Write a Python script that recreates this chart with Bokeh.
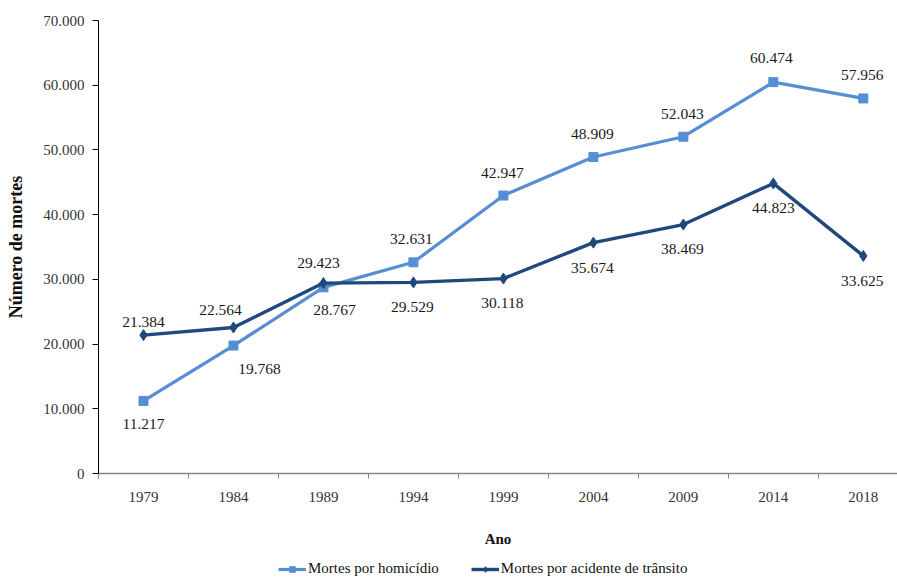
from bokeh.plotting import figure
from bokeh.layouts import column
from bokeh.models import ColumnDataSource, FixedTicker, Range1d, Legend, LegendItem
from bokeh.embed import file_html
from bokeh.resources import INLINE
from bokeh.core.properties import value

# ---- data ----
years = ["1979", "1984", "1989", "1994", "1999", "2004", "2009", "2014", "2018"]
homicidios = [11217, 19768, 28767, 32631, 42947, 48909, 52043, 60474, 57956]
transito = [21384, 22564, 29423, 29529, 30118, 35674, 38469, 44823, 33625]
y_ticks = [0, 10000, 20000, 30000, 40000, 50000, 60000, 70000]
series_names = ["Mortes por homicídio", "Mortes por acidente de trânsito"]

# ---- label placement (screen px, style only) ----
hom_dx = [0, 26, 11, -2, -1, -1, -1, -2, -1]
hom_dy = [23, 23, 23, -23, -23, -23, -23, -24, -23]
tra_dx = [0, -13, -5, -1, -1, -1, -1, 0, -1]
tra_dy = [-13, -17, -20, 25, 24, 25, 24, 25, 25]

def fmt(v):
    return f"{v:,}".replace(",", ".")

xs = list(range(len(years)))
c_hom = "#558ED5"
c_tra = "#1F497D"
serif = "Liberation Serif"

p = figure(width=897, height=553, output_backend="svg", toolbar_location=None,
           x_range=Range1d(-0.5, 8.38), y_range=Range1d(0, 70000),
           min_border_left=98, min_border_top=20, min_border_right=0,
           min_border_bottom=80)
p.outline_line_color = None
p.xgrid.visible = False
p.ygrid.visible = False

src_h = ColumnDataSource(dict(x=xs, y=homicidios, t=[fmt(v) for v in homicidios], dx=hom_dx, dy=hom_dy))
src_t = ColumnDataSource(dict(x=xs, y=transito, t=[fmt(v) for v in transito], dx=tra_dx, dy=tra_dy))

line_h = dict(line_color=c_hom, line_width=3.2)
mark_h = dict(marker="square", size=9, color=c_hom)
line_t = dict(line_color=c_tra, line_width=3.4)
mark_t = dict(marker="diamond", size=11, color=c_tra)

p.line("x", "y", source=src_h, **line_h)
p.scatter("x", "y", source=src_h, **mark_h)
p.line("x", "y", source=src_t, **line_t)
p.scatter("x", "y", source=src_t, **mark_t)

for s in (src_h, src_t):
    p.text("x", "y", text="t", source=s, x_offset="dx", y_offset="dy",
           text_align="center", text_baseline="middle",
           text_font=value(serif), text_font_size="15.5px", text_color="#1a1a1a")

# x axis
p.xaxis.ticker = FixedTicker(ticks=xs, minor_ticks=[i - 0.5 for i in range(len(years))])
p.xaxis.major_label_overrides = {i: y for i, y in enumerate(years)}
p.xaxis.major_tick_line_color = None
p.xaxis.minor_tick_line_color = "#888888"
p.xaxis.minor_tick_out = 5
p.xaxis.minor_tick_in = 0
p.xaxis.axis_line_color = "#888888"
p.xaxis.axis_line_width = 1.5
p.xaxis.major_label_standoff = 12
p.xaxis.major_label_text_font = serif
p.xaxis.major_label_text_font_size = "15px"
p.xaxis.major_label_text_color = "#333333"
p.xaxis.axis_label = "Ano"
p.xaxis.axis_label_text_font = serif
p.xaxis.axis_label_text_font_style = "bold"
p.xaxis.axis_label_text_font_size = "15px"
p.xaxis.axis_label_text_color = "#111111"
p.xaxis.axis_label_standoff = 26

# y axis
p.yaxis.ticker = FixedTicker(ticks=y_ticks, minor_ticks=[])
p.yaxis.major_label_overrides = {v: fmt(v) for v in y_ticks}
p.yaxis.axis_line_color = "#000000"
p.yaxis.major_tick_line_color = "#000000"
p.yaxis.major_tick_out = 6
p.yaxis.major_tick_in = 0
p.yaxis.major_label_standoff = 8
p.yaxis.major_label_text_font = serif
p.yaxis.major_label_text_font_size = "15px"
p.yaxis.major_label_text_color = "#333333"
p.yaxis.axis_label = "Número de mortes"
p.yaxis.axis_label_text_font = serif
p.yaxis.axis_label_text_font_style = "bold"
p.yaxis.axis_label_text_font_size = "18px"
p.yaxis.axis_label_text_color = "#111111"
p.yaxis.axis_label_standoff = 14

# legend strip below the chart (same series, drawn outside its visible range)
f2 = figure(width=897, height=25, output_backend="svg", toolbar_location=None,
            x_range=Range1d(100, 101), y_range=Range1d(-2, -1),
            x_axis_type=None, y_axis_type=None, min_border=0)
f2.outline_line_color = None
f2.xgrid.visible = False
f2.ygrid.visible = False
g_lh = f2.line("x", "y", source=src_h, **line_h)
g_mh = f2.scatter("x", "y", source=src_h, **mark_h)
g_lt = f2.line("x", "y", source=src_t, **line_t)
g_mt = f2.scatter("x", "y", source=src_t, **mark_t)
legend = Legend(items=[LegendItem(label=series_names[0], renderers=[g_lh, g_mh]),
                       LegendItem(label=series_names[1], renderers=[g_lt, g_mt])],
                orientation="horizontal", location=(180, 1),
                label_text_font=serif, label_text_font_size="15px", label_text_color="#111111",
                glyph_width=28, glyph_height=14, label_height=14, label_standoff=2, spacing=32,
                padding=0, margin=0, border_line_color=None, background_fill_alpha=0)
f2.add_layout(legend, "center")

layout = column(p, f2, spacing=0)
open("out.html", "w").write(file_html(layout, INLINE))
